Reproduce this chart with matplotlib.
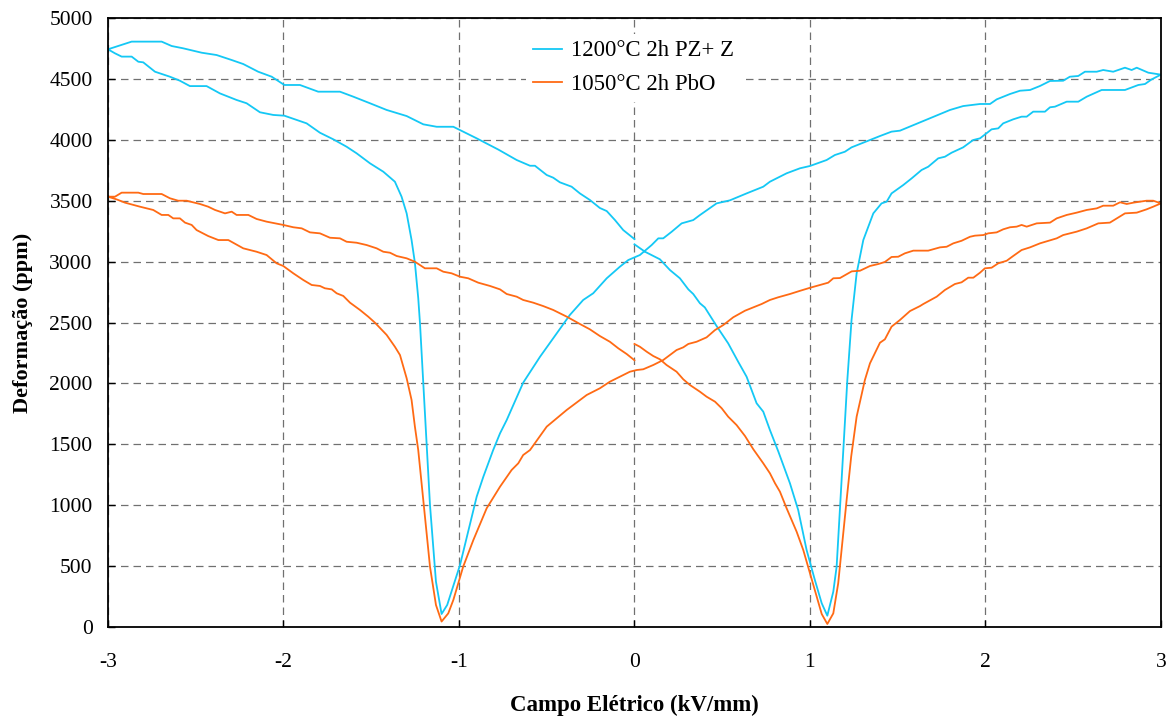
import matplotlib
matplotlib.use("Agg")
import matplotlib.pyplot as plt
import numpy as np

plt.rcParams['font.family'] = ['Liberation Serif', 'DejaVu Serif']
plt.rcParams['axes.unicode_minus'] = False

# measurement order: 0 -> +3 -> -3 -> 0 kV/mm
pz_e = [0.0, 0.06, 0.145, 0.202, 0.259, 0.307, 0.335, 0.373, 0.401, 0.468, 0.534, 0.591, 0.639, 0.696, 0.734,
        0.772, 0.82, 0.886, 0.933, 0.981, 1.028, 1.067, 1.099, 1.133, 1.152, 1.19, 1.213, 1.237, 1.266, 1.304,
        1.361, 1.408, 1.437, 1.465, 1.532, 1.58, 1.636, 1.674, 1.731, 1.769, 1.807, 1.873, 1.93, 1.969, 2.035,
        2.073, 2.101, 2.158, 2.206, 2.235, 2.272, 2.339, 2.368, 2.396, 2.463, 2.529, 2.577, 2.662, 2.795, 2.871,
        2.909, 2.947, 3.0,
        2.928, 2.862, 2.833, 2.795, 2.728, 2.671, 2.634, 2.567, 2.529, 2.481, 2.443, 2.368, 2.311, 2.254, 2.197,
        2.14, 2.064, 2.026, 1.969, 1.873, 1.798, 1.513, 1.465, 1.399, 1.304, 1.237, 1.199, 1.142, 1.095, 1.0,
        0.943, 0.867, 0.772, 0.734, 0.639, 0.544, 0.468, 0.373, 0.335, 0.269, 0.212, 0.164, 0.136, 0.098, 0.031,
        -0.035, -0.083, -0.158, -0.235, -0.292, -0.368, -0.443, -0.538, -0.634, -0.728, -0.766, -0.805, -0.861,
        -0.899, -0.994, -1.067, -1.099, -1.131, -1.165, -1.184, -1.203, -1.222, -1.232, -1.251, -1.27, -1.298,
        -1.327, -1.365, -1.431, -1.507, -1.583, -1.64, -1.716, -1.792, -1.868, -1.925, -1.995, -2.058, -2.134,
        -2.21, -2.267, -2.362, -2.438, -2.533, -2.59, -2.647, -2.732, -2.799, -2.827, -2.865, -2.922, -2.96, -3.0,
        -2.865, -2.694, -2.637, -2.571, -2.466, -2.381, -2.295, -2.229, -2.144, -2.067, -1.995, -1.906, -1.802,
        -1.678, -1.602, -1.507, -1.412, -1.298, -1.203, -1.127, -1.032, -0.994, -0.899, -0.776, -0.671, -0.595,
        -0.567, -0.5, -0.463, -0.425, -0.358, -0.311, -0.254, -0.197, -0.158, -0.111, -0.064, 0.0]
pz_s = [3142, 3081, 3019, 2931, 2863, 2772, 2734, 2658, 2624, 2471, 2329, 2178, 2055, 1837, 1768,
        1617, 1440, 1180, 961, 632, 386, 195, 93, 290, 495, 1453, 2028, 2521, 2904, 3177,
        3396, 3478, 3492, 3560, 3629, 3684, 3752, 3779, 3848, 3861, 3894, 3938, 3998, 4012, 4086,
        4094, 4135, 4168, 4190, 4190, 4231, 4231, 4267, 4272, 4313, 4313, 4354, 4409, 4409, 4450,
        4458, 4496, 4535,
        4551, 4592, 4573, 4592, 4559, 4573, 4559, 4559, 4524, 4518, 4485, 4483, 4442, 4409, 4403,
        4376, 4332, 4294, 4294, 4277, 4245, 4075, 4067, 4031, 3976, 3938, 3902, 3875, 3834, 3785,
        3766, 3725, 3656, 3615, 3560, 3503, 3478, 3382, 3341, 3314, 3245, 3191, 3191, 3136, 3054,
        3013, 2958, 2863, 2740, 2685, 2562, 2411, 2219, 2006, 1699, 1590, 1453, 1234,
        1070, 509, 181, 107, 372, 1000, 1500, 2001, 2493, 2700, 2990, 3177, 3396,
        3533, 3656, 3738, 3807, 3889, 3943, 4004, 4058, 4135, 4163, 4198, 4204, 4226,
        4300, 4327, 4381, 4441, 4441, 4485, 4518, 4559, 4636, 4641, 4683, 4683, 4710, 4743,
        4806, 4806, 4770, 4751, 4715, 4696, 4655, 4622, 4559, 4518, 4450, 4450, 4395,
        4395, 4354, 4300, 4245, 4195, 4127, 4107, 4107, 4080, 4012, 3920, 3834, 3787,
        3787, 3711, 3689, 3651, 3615, 3560, 3506, 3440, 3415, 3341, 3259, 3185]

pbo_e = [0.0, 0.031, 0.07, 0.107, 0.145, 0.183, 0.24, 0.278, 0.316, 0.373, 0.411, 0.459, 0.497, 0.534, 0.582,
         0.63, 0.677, 0.734, 0.772, 0.801, 0.829, 0.867, 0.924, 0.962, 1.0, 1.038, 1.067, 1.099, 1.133, 1.161,
         1.209, 1.235, 1.266, 1.313, 1.342, 1.399, 1.427, 1.465, 1.513, 1.57, 1.627, 1.646, 1.722, 1.769, 1.826,
         1.864, 1.902, 1.931, 1.969, 1.997, 2.035, 2.073, 2.121, 2.158, 2.206, 2.254, 2.311, 2.406, 2.443, 2.52,
         2.577, 2.643, 2.709, 2.795, 2.862, 2.918, 2.956, 3.0,
         2.956, 2.918, 2.843, 2.805, 2.767, 2.728, 2.671, 2.634, 2.577, 2.52, 2.463, 2.406, 2.368, 2.292, 2.235,
         2.206, 2.178, 2.14, 2.101, 2.064, 2.016, 1.988, 1.94, 1.912, 1.864, 1.817, 1.779, 1.741, 1.674, 1.589,
         1.541, 1.503, 1.465, 1.427, 1.389, 1.342, 1.285, 1.238, 1.171, 1.133, 1.104, 1.057, 1.0, 0.943, 0.886,
         0.819, 0.772, 0.725, 0.677, 0.63, 0.563, 0.506, 0.459, 0.411, 0.354, 0.307, 0.278, 0.24, 0.202, 0.164,
         0.107, 0.05, 0.013, -0.026, -0.064, -0.14, -0.197, -0.272, -0.386, -0.5, -0.595, -0.634, -0.662, -0.7,
         -0.766, -0.842, -0.918, -0.976, -1.032, -1.061, -1.099, -1.131, -1.165, -1.194, -1.232, -1.251, -1.27,
         -1.298, -1.336, -1.365, -1.412, -1.479, -1.517, -1.564, -1.621, -1.659, -1.697, -1.725, -1.764, -1.792,
         -1.839, -1.887, -1.944, -2.001, -2.039, -2.096, -2.153, -2.229, -2.314, -2.371, -2.429, -2.495, -2.523,
         -2.561, -2.59, -2.628, -2.656, -2.694, -2.742, -2.818, -2.903, -2.951, -3.0,
         -2.96, -2.922, -2.827, -2.799, -2.694, -2.647, -2.6, -2.552, -2.476, -2.429, -2.39, -2.333, -2.295,
         -2.267, -2.2, -2.153, -2.096, -2.001, -1.944, -1.896, -1.849, -1.792, -1.735, -1.678, -1.64, -1.583,
         -1.526, -1.469, -1.431, -1.393, -1.355, -1.298, -1.251, -1.194, -1.127, -1.089, -1.042, -0.994, -0.947,
         -0.89, -0.823, -0.766, -0.728, -0.671, -0.634, -0.577, -0.52, -0.463, -0.386, -0.311, -0.254, -0.197,
         -0.14, -0.092, -0.044, 0.0]
pbo_s = [2324, 2301, 2260, 2225, 2198, 2151, 2096, 2034, 1987, 1932, 1891, 1850, 1796, 1727, 1658,
         1568, 1460, 1344, 1262, 1180, 1111, 975, 783, 632, 441, 249, 107, 25, 112, 359,
         1043, 1400, 1727, 2028, 2165, 2334, 2362, 2466, 2521, 2594, 2635, 2652, 2712, 2767, 2816,
         2830, 2868, 2868, 2909, 2945, 2950, 2986, 3007, 3046, 3095, 3117, 3150, 3191, 3218, 3246,
         3273, 3314, 3320, 3396, 3402, 3429, 3451, 3478,
         3500, 3500, 3484, 3473, 3487, 3459, 3459, 3437, 3424, 3402, 3383, 3355, 3320, 3314, 3287,
         3301, 3287, 3282, 3265, 3240, 3232, 3218, 3213, 3204, 3171, 3150, 3122, 3117, 3090, 3090,
         3068, 3040, 3038, 2997, 2980, 2964, 2925, 2920, 2865, 2863, 2827, 2808, 2785, 2760, 2734,
         2707, 2685, 2652, 2624, 2597, 2543, 2479, 2438, 2378, 2342, 2324, 2296, 2274, 2233, 2192,
         2151, 2116, 2110, 2096, 2069, 2014, 1960, 1905, 1782, 1645, 1453, 1412, 1344, 1289,
         1152, 975, 714, 495, 222, 112, 45, 181, 495, 906, 1453, 1645, 1864,
         2042, 2233, 2301, 2398, 2499, 2548, 2603, 2663, 2718, 2740, 2772, 2781, 2800,
         2808, 2849, 2904, 2964, 2986, 3054, 3081, 3109, 3177, 3177, 3210, 3259, 3301,
         3320, 3355, 3355, 3383, 3383, 3424, 3451, 3484, 3511, 3533,
         3533, 3566, 3566, 3555, 3555, 3520, 3500, 3500, 3473, 3451, 3424, 3396, 3410,
         3383, 3383, 3350, 3328, 3301, 3282, 3273, 3240, 3232, 3196, 3191, 3163, 3155,
         3136, 3109, 3081, 3073, 3046, 3027, 2999, 2945, 2945, 2917, 2904, 2876, 2863,
         2827, 2800, 2772, 2734, 2712, 2685, 2663, 2635, 2603, 2548, 2488, 2444, 2389,
         2342, 2288, 2241, 2190]

labels = ['1200°C 2h PZ+ Z', '1050°C 2h PbO']

fig = plt.figure(figsize=(11.76, 7.17), dpi=100)
ax = fig.add_axes([0.0918, 0.1255, 0.8954, 0.8494])

ax.plot(pz_e, pz_s, color='#14C8F5', lw=1.3, label=labels[0])
ax.plot(pbo_e, pbo_s, color='#FF6A14', lw=1.3, label=labels[1])

ax.set_xlim(-3, 3)
ax.set_ylim(0, 5000)
ax.set_xticks(np.arange(-3, 4, 1))
ax.set_yticks(np.arange(0, 5001, 500))
ax.grid(True, color='#707070', ls=(0, (6, 4)), lw=0.9)
ax.tick_params(direction='in', length=5, labelsize=15.5, width=1)
ax.tick_params(axis='x', pad=19)
ax.tick_params(axis='y', pad=11)
for sp in ax.spines.values():
    sp.set_linewidth(1.3)

ax.set_xlabel('Campo Elétrico (kV/mm)', fontsize=16.5, fontweight='bold', labelpad=16)
ax.set_ylabel('Deformação (ppm)', fontsize=16, fontweight='bold', labelpad=12)

leg = ax.legend(loc='upper left', bbox_to_anchor=(0.386, 0.993), frameon=True, fontsize=16.4,
                handlelength=1.3, handletextpad=0.4, borderpad=0.3, labelspacing=0.55)
leg.get_frame().set_edgecolor('none')
leg.get_frame().set_facecolor('white')
leg.get_frame().set_alpha(1)

fig.savefig('out.png', dpi=100)
